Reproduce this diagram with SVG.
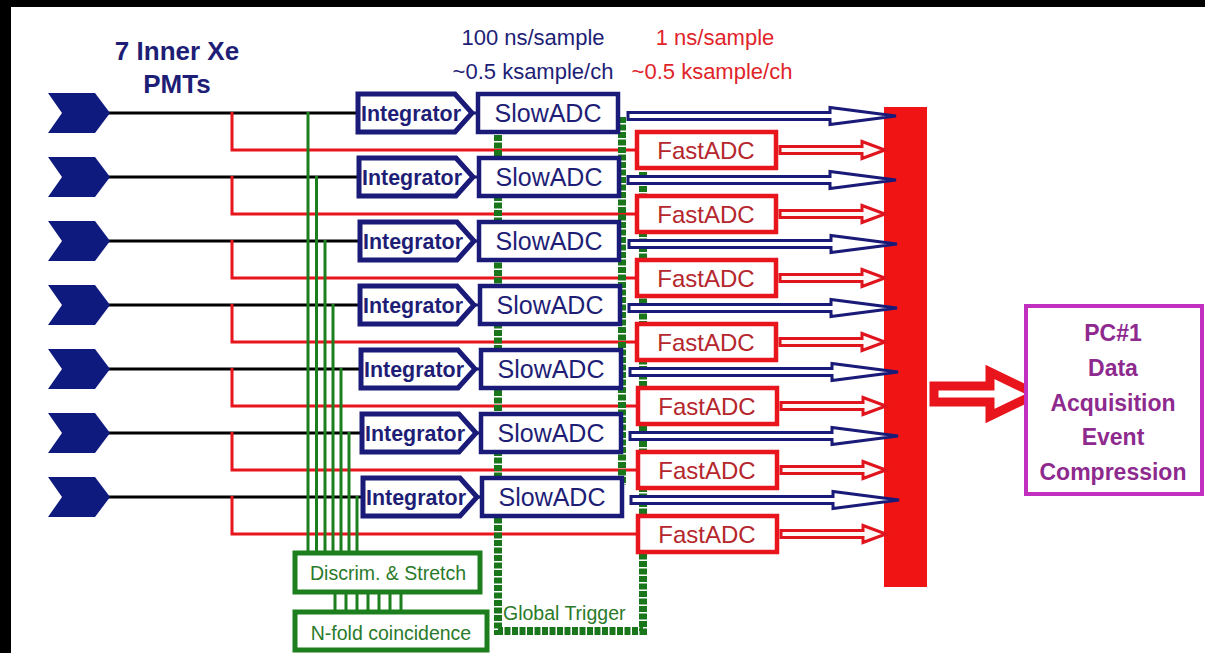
<svg xmlns="http://www.w3.org/2000/svg" width="1205" height="653" viewBox="0 0 1205 653">
<style>
text{font-family:"Liberation Sans",Arial,sans-serif}
.navy{fill:#1e1e76}
.bl{stroke:#000;stroke-width:3;fill:none}
.rl{stroke:#e8151d;stroke-width:3;fill:none}
.gl{stroke:#1c7e1c;stroke-width:3;fill:none}
.gd{stroke:#1a761a;stroke-width:8;fill:none;stroke-dasharray:6 1.5}
.nv{stroke:#1a1a78;stroke-width:3;fill:none}
.barw{fill:#fff;stroke:#1a1a78;stroke-width:3}
.arw{fill:#fff6f6;stroke:#e0141c;stroke-width:3}
.integ{fill:#fff;stroke:#1a1a78;stroke-width:5}
.slow{fill:#fff;stroke:#1a1a78;stroke-width:4.5}
.fast{fill:#fff;stroke:#e8151d;stroke-width:4.5}
.gbox{fill:#fff;stroke:#1c7e1c;stroke-width:5}
.it{font-size:22px;font-weight:bold;fill:#1e1e76}
.st{font-size:25px;fill:#1e1e76;text-anchor:middle}
.ft{font-size:24px;fill:#b5262d;text-anchor:middle}
.gt{font-size:19.5px;fill:#2a7a2a;text-anchor:middle}
.pc{font-size:23px;font-weight:bold;fill:#8e2a8e;text-anchor:middle}
.chev{fill:#0f1a7e}
</style>
<defs>
<path id="chevron" d="M48,-20 H95 L110,0 L95,20 H48 L62,0 Z"/>
<path id="integShape" d="M0,-19 H97 L114,0 L97,19 H0 Z"/>
<path id="slowArrow" d="M0,-3.5 H202 V-8.5 L268,0 L202,8.5 V3.5 H0 Z"/>
<path id="fastArrow" d="M0,-3.5 H82 V-8.5 L105,0 L82,8.5 V3.5 H0 Z"/>
</defs>
<rect x="0" y="0" width="1205" height="653" fill="#fff"/>
<rect x="0" y="0" width="1205" height="7" fill="#000"/>
<rect x="0" y="0" width="11" height="653" fill="#000"/>

<g id="labels">
<text x="177" y="60" font-size="26" font-weight="bold" class="navy" text-anchor="middle">7 Inner Xe</text>
<text x="177" y="93" font-size="26" font-weight="bold" class="navy" text-anchor="middle">PMTs</text>
<text x="533" y="45" font-size="22" class="navy" text-anchor="middle">100 ns/sample</text>
<text x="533" y="79" font-size="22" class="navy" text-anchor="middle">~0.5 ksample/ch</text>
<text x="715" y="45" font-size="22" fill="#e0242a" text-anchor="middle">1 ns/sample</text>
<text x="712" y="79" font-size="22" fill="#e0242a" text-anchor="middle">~0.5 ksample/ch</text>
</g>

<g id="bus"><rect x="884" y="107" width="43" height="480" fill="#f01414"/></g>

<g id="connectors">
<path class="bl" d="M108,113H358 M108,177H359 M108,241H360 M108,305H360 M108,369H361 M108,433H362 M108,497H363"/>
<path class="rl" d="M232,112V150H637 M232,176V214H637 M232,240V278H637 M232,304V342H637 M232,368V406H638 M232,432V470H638 M232,496V534H638"/>
<path class="gl" d="M308,112V553 M316.5,176V553 M325,240V553 M333,304V553 M341,368V553 M349,432V553 M357,496V553"/>
<path class="gl" d="M335,592V612 M346,592V612 M357,592V612 M368,592V612 M379,592V612 M390,592V612 M401,592V612"/>
<path class="gd" d="M498,120V631H643V172 M622,117V485"/>
<path class="nv" d="M472,113H478 M473,177H479 M474,241H479 M474,305H480 M475,369H481 M476,433H481 M477,497H482"/>
<use href="#slowArrow" class="barw" transform="translate(628,116)"/>
<use href="#slowArrow" class="barw" transform="translate(628,180)"/>
<use href="#slowArrow" class="barw" transform="translate(629,244)"/>
<use href="#slowArrow" class="barw" transform="translate(629,308)"/>
<use href="#slowArrow" class="barw" transform="translate(630,372)"/>
<use href="#slowArrow" class="barw" transform="translate(630,436)"/>
<use href="#slowArrow" class="barw" transform="translate(631,500)"/>
<use href="#fastArrow" class="arw" transform="translate(780,150)"/>
<use href="#fastArrow" class="arw" transform="translate(780,214)"/>
<use href="#fastArrow" class="arw" transform="translate(780,278)"/>
<use href="#fastArrow" class="arw" transform="translate(780,342)"/>
<use href="#fastArrow" class="arw" transform="translate(781,406)"/>
<use href="#fastArrow" class="arw" transform="translate(781,470)"/>
<use href="#fastArrow" class="arw" transform="translate(781,534)"/>
<path d="M934,386H990V372L1036,394L990,416V402H934Z" fill="#fff" stroke="#e8151d" stroke-width="9" stroke-linejoin="miter"/>
</g>

<g id="pmt1"><use href="#chevron" class="chev" transform="translate(0,113)"/></g>
<g id="pmt2"><use href="#chevron" class="chev" transform="translate(0,177)"/></g>
<g id="pmt3"><use href="#chevron" class="chev" transform="translate(0,241)"/></g>
<g id="pmt4"><use href="#chevron" class="chev" transform="translate(0,305)"/></g>
<g id="pmt5"><use href="#chevron" class="chev" transform="translate(0,369)"/></g>
<g id="pmt6"><use href="#chevron" class="chev" transform="translate(0,433)"/></g>
<g id="pmt7"><use href="#chevron" class="chev" transform="translate(0,497)"/></g>

<g id="integrator1"><use href="#integShape" class="integ" transform="translate(358,113)"/><text class="it" x="361" y="121" textLength="100" lengthAdjust="spacingAndGlyphs">Integrator</text></g>
<g id="integrator2"><use href="#integShape" class="integ" transform="translate(359,177)"/><text class="it" x="362" y="185" textLength="100" lengthAdjust="spacingAndGlyphs">Integrator</text></g>
<g id="integrator3"><use href="#integShape" class="integ" transform="translate(360,241)"/><text class="it" x="363" y="249" textLength="100" lengthAdjust="spacingAndGlyphs">Integrator</text></g>
<g id="integrator4"><use href="#integShape" class="integ" transform="translate(360,305)"/><text class="it" x="363" y="313" textLength="100" lengthAdjust="spacingAndGlyphs">Integrator</text></g>
<g id="integrator5"><use href="#integShape" class="integ" transform="translate(361,369)"/><text class="it" x="364" y="377" textLength="100" lengthAdjust="spacingAndGlyphs">Integrator</text></g>
<g id="integrator6"><use href="#integShape" class="integ" transform="translate(362,433)"/><text class="it" x="365" y="441" textLength="100" lengthAdjust="spacingAndGlyphs">Integrator</text></g>
<g id="integrator7"><use href="#integShape" class="integ" transform="translate(363,497)"/><text class="it" x="366" y="505" textLength="100" lengthAdjust="spacingAndGlyphs">Integrator</text></g>

<g id="slowadc1"><rect class="slow" x="478" y="94" width="140" height="38"/><text class="st" x="548" y="122">SlowADC</text></g>
<g id="slowadc2"><rect class="slow" x="479" y="158" width="140" height="38"/><text class="st" x="549" y="186">SlowADC</text></g>
<g id="slowadc3"><rect class="slow" x="479" y="222" width="140" height="38"/><text class="st" x="549" y="250">SlowADC</text></g>
<g id="slowadc4"><rect class="slow" x="480" y="286" width="140" height="38"/><text class="st" x="550" y="314">SlowADC</text></g>
<g id="slowadc5"><rect class="slow" x="481" y="350" width="140" height="38"/><text class="st" x="551" y="378">SlowADC</text></g>
<g id="slowadc6"><rect class="slow" x="481" y="414" width="140" height="38"/><text class="st" x="551" y="442">SlowADC</text></g>
<g id="slowadc7"><rect class="slow" x="482" y="478" width="140" height="38"/><text class="st" x="552" y="506">SlowADC</text></g>

<g id="fastadc1"><rect class="fast" x="637" y="132" width="139" height="36"/><text class="ft" x="706" y="159">FastADC</text></g>
<g id="fastadc2"><rect class="fast" x="637" y="196" width="139" height="36"/><text class="ft" x="706" y="223">FastADC</text></g>
<g id="fastadc3"><rect class="fast" x="637" y="260" width="139" height="36"/><text class="ft" x="706" y="287">FastADC</text></g>
<g id="fastadc4"><rect class="fast" x="637" y="324" width="139" height="36"/><text class="ft" x="706" y="351">FastADC</text></g>
<g id="fastadc5"><rect class="fast" x="638" y="388" width="139" height="36"/><text class="ft" x="707" y="415">FastADC</text></g>
<g id="fastadc6"><rect class="fast" x="638" y="452" width="139" height="36"/><text class="ft" x="707" y="479">FastADC</text></g>
<g id="fastadc7"><rect class="fast" x="638" y="516" width="139" height="36"/><text class="ft" x="707" y="543">FastADC</text></g>

<g id="discrim"><rect class="gbox" x="295" y="553" width="185" height="39"/><text class="gt" x="388" y="580">Discrim. &amp; Stretch</text></g>
<g id="nfold"><rect class="gbox" x="295" y="612" width="192" height="38"/><text class="gt" x="391" y="640" font-size="20">N-fold coincidence</text></g>
<g id="globaltrigger"><text x="503" y="620" font-size="19.5" fill="#2a7a2a">Global Trigger</text></g>

<g id="pc1"><rect x="1026" y="306" width="176" height="188" fill="#fff" stroke="#c12fc1" stroke-width="4"/>
<text class="pc" x="1113" y="341">PC#1</text>
<text class="pc" x="1113" y="376">Data</text>
<text class="pc" x="1113" y="411">Acquisition</text>
<text class="pc" x="1113" y="445">Event</text>
<text class="pc" x="1113" y="480">Compression</text>
</g>
</svg>
